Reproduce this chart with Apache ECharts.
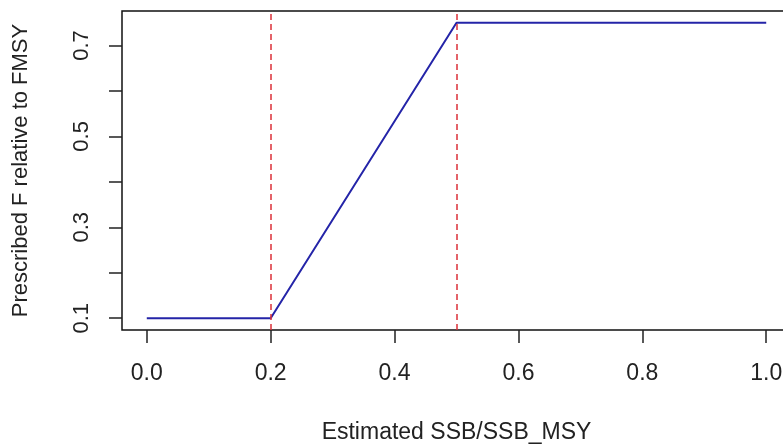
<!DOCTYPE html>
<html>
<head>
<meta charset="utf-8">
<script src="https://cdn.jsdelivr.net/npm/echarts@6/dist/echarts.min.js"></script>
<style>
    html, body { margin: 0; padding: 0; background: #fff; }
    #chart { width: 783px; height: 444px; }
</style>
</head>
<body>
<div id="chart"></div>
<script>
// harvest control rule: F relative to FMSY vs SSB/SSB_MSY
const ssbRatio = [0.0, 0.2, 0.5, 1.0];
const fRatio = [0.1, 0.1, 0.75, 0.75];
const refPoints = [0.2, 0.5];
const xTicks = [0.0, 0.2, 0.4, 0.6, 0.8, 1.0];
const yTicks = [0.1, 0.2, 0.3, 0.4, 0.5, 0.6, 0.7];
const yLabels = [0.1, 0.3, 0.5, 0.7];

const chartContainer = document.getElementById('chart');
const myChart = echarts.init(chartContainer);

const font = 'Liberation Sans, Arial, sans-serif';

const option = {
    animation: false,
    grid: {
        left: 122,
        top: 11,
        width: 669,
        height: 319,
        outerBoundsMode: 'none',
        containLabel: false,
        show: true,
        borderColor: '#111',
        borderWidth: 1.5
    },
    xAxis: {
        type: 'value',
        min: -0.04,
        max: 1.04,
        name: 'Estimated SSB/SSB_MSY',
        nameLocation: 'middle',
        nameGap: 91,
        nameTextStyle: { fontFamily: font, fontSize: 23, color: '#222' },
        splitLine: { show: false },
        axisLine: { show: false, onZero: false },
        axisTick: {
            show: true,
            length: 13,
            customValues: xTicks,
            lineStyle: { color: '#222', width: 1.5 }
        },
        axisLabel: {
            customValues: xTicks,
            margin: 32,
            fontFamily: font,
            fontSize: 23,
            color: '#222',
            formatter: v => v.toFixed(1)
        }
    },
    yAxis: {
        type: 'value',
        min: 0.074,
        max: 0.776,
        name: 'Prescribed F relative to FMSY',
        nameLocation: 'middle',
        nameRotate: 90,
        nameGap: 90,
        nameTextStyle: { fontFamily: font, fontSize: 22, color: '#222' },
        splitLine: { show: false },
        axisLine: { show: false, onZero: false },
        axisTick: {
            show: true,
            length: 13,
            customValues: yTicks,
            lineStyle: { color: '#222', width: 1.5 }
        },
        axisLabel: {
            customValues: yLabels,
            rotate: 90,
            margin: 29,
            fontFamily: font,
            fontSize: 22,
            color: '#222',
            formatter: v => v.toFixed(1)
        }
    },
    series: [
        {
            type: 'line',
            data: ssbRatio.map((x, i) => [x, fRatio[i]]),
            symbol: 'none',
            lineStyle: { color: '#2424a8', width: 2 },
            markLine: {
                silent: true,
                symbol: 'none',
                label: { show: false },
                lineStyle: { color: '#dc3038', type: [6, 4], width: 1.5 },
                data: refPoints.map(x => ({ xAxis: x }))
            }
        }
    ]
};

myChart.setOption(option);
window.addEventListener('resize', myChart.resize);
</script>
</body>
</html>
